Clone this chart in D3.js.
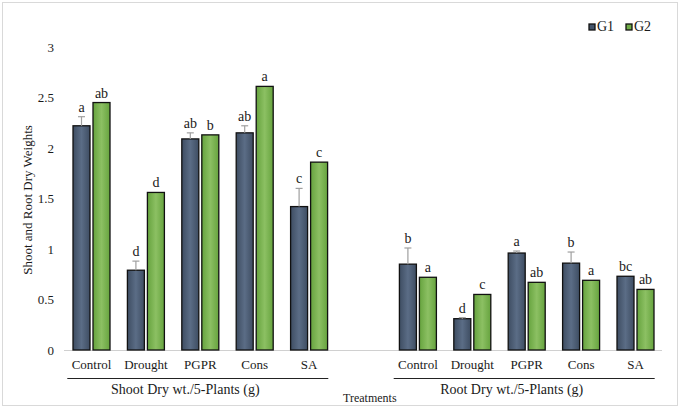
<!DOCTYPE html>
<html><head><meta charset="utf-8">
<script src="https://cdn.jsdelivr.net/npm/d3@7/dist/d3.min.js"></script>
<style>body{margin:0;background:#fff}svg{display:block}</style>
</head><body><svg id="c" width="681" height="410" font-family="'Liberation Serif', 'DejaVu Serif', serif"></svg>
<script>
const treatments = ["Control","Drought","PGPR","Cons","SA"];
const groups = ["Shoot Dry wt./5-Plants (g)","Root Dry wt./5-Plants (g)"];
const series = ["G1","G2"];
const shootG1 = [2.22,0.79,2.09,2.15,1.42];
const shootG2 = [2.45,1.56,2.13,2.61,1.86];
const shootG1Err = [0.09,0.09,0.06,0.07,0.18];
const shootG2Err = [0,0,0,0,0];
const rootG1 = [0.85,0.31,0.96,0.86,0.73];
const rootG2 = [0.72,0.55,0.67,0.69,0.60];
const rootG1Err = [0.16,0.01,0.02,0.11,0];
const rootG2Err = [0,0,0,0,0];
const shootG1Let = ["a","d","ab","ab","c"];
const shootG2Let = ["ab","d","b","a","c"];
const rootG1Let = ["b","d","a","b","bc"];
const rootG2Let = ["a","c","ab","a","ab"];
const yTicks = [0,0.5,1,1.5,2,2.5,3];
const yTitle = "Shoot and Root Dry Weights";
const xTitle = "Treatments";

const svg = d3.select("#c");
const FONT = "'Liberation Serif', 'DejaVu Serif', serif";
const TXT = "#1a1a1a";
const colors = {G1:"#44546A", G2:"#70AD47"};
const defs = svg.append("defs");
[["G1","#5b6d86","#3e4d62"],["G2","#8cc063","#66a33e"]].forEach(([k,a,b])=>{
  const g = defs.append("linearGradient").attr("id","gr"+k).attr("x1",0).attr("x2",1).attr("y1",0).attr("y2",0);
  g.append("stop").attr("offset","0%").attr("stop-color",b);
  g.append("stop").attr("offset","50%").attr("stop-color",a);
  g.append("stop").attr("offset","100%").attr("stop-color",b);
});

svg.append("rect").attr("x",2.5).attr("y",2.5).attr("width",675).attr("height",403).attr("fill","#fff").attr("stroke","#d9d9d9");

const slots = [];
treatments.forEach(t=>slots.push("S|"+t));
slots.push("gap");
treatments.forEach(t=>slots.push("R|"+t));

const x = d3.scaleBand().domain(slots).range([64.3,662.7]).paddingInner(0).paddingOuter(0);
const y = d3.scaleLinear().domain([0,3]).range([350,47]);

// y tick labels
svg.append("g").selectAll("text").data(yTicks).join("text")
  .attr("x",54).attr("y",d=>y(d)+4.5).attr("text-anchor","end").attr("font-size",13)
  .attr("font-family",FONT).attr("fill",TXT).text(d=>d);

// baseline
svg.append("line").attr("x1",64).attr("x2",662).attr("y1",350.5).attr("y2",350.5).attr("stroke","#d0d0d0");

const data = [];
const sets = [
  ["S",shootG1,shootG2,shootG1Err,shootG2Err,shootG1Let,shootG2Let],
  ["R",rootG1,rootG2,rootG1Err,rootG2Err,rootG1Let,rootG2Let]];
sets.forEach(([p,a,b,ea,eb,la,lb])=>{
  treatments.forEach((t,i)=>{
    data.push({slot:p+"|"+t,s:"G1",v:a[i],e:ea[i],l:la[i]});
    data.push({slot:p+"|"+t,s:"G2",v:b[i],e:eb[i],l:lb[i]});
  });
});
const xs = d3.scaleBand().domain(series).range([0,x.bandwidth()]).paddingInner(0.15).paddingOuter(0.435);

const g = svg.append("g");
data.forEach(d=>{
  const bx = x(d.slot)+xs(d.s);
  const w = xs.bandwidth();
  g.append("rect").attr("x",bx).attr("y",y(d.v)).attr("width",w).attr("height",y(0)-y(d.v))
    .attr("fill","url(#gr"+d.s+")").attr("stroke","#111").attr("stroke-width",1.3);
  const cx = bx+w/2;
  if(d.e>0){
    g.append("line").attr("x1",cx).attr("x2",cx).attr("y1",y(d.v)).attr("y2",y(d.v+d.e)).attr("stroke","#a0a0a0").attr("stroke-width",1.2);
    g.append("line").attr("x1",cx-3.5).attr("x2",cx+3.5).attr("y1",y(d.v+d.e)).attr("y2",y(d.v+d.e)).attr("stroke","#a0a0a0").attr("stroke-width",1.2);
  }
  g.append("text").attr("x",cx).attr("y",y(d.v+d.e)-5).attr("text-anchor","middle").attr("font-size",14)
    .attr("font-family",FONT).attr("fill",TXT).text(d.l);
});

// category labels
svg.append("g").selectAll("text").data(slots.filter(s=>s!=="gap")).join("text")
  .attr("x",d=>x(d)+x.bandwidth()/2).attr("y",369).attr("text-anchor","middle").attr("font-size",13)
  .attr("font-family",FONT).attr("fill",TXT).text(d=>d.split("|")[1]);

// group lines & labels
[["S",0],["R",1]].forEach(([p,i])=>{
  const first = x(p+"|"+treatments[0]), last = x(p+"|"+treatments[4])+x.bandwidth();
  svg.append("line").attr("x1",first+3).attr("x2",last-8).attr("y1",378.5).attr("y2",378.5).attr("stroke","#222").attr("stroke-width",1);
  svg.append("text").attr("x",(first+last)/2-15).attr("y",394).attr("text-anchor","middle").attr("font-size",14)
    .attr("font-family",FONT).attr("fill",TXT).text(groups[i]);
});

svg.append("text").attr("x",343).attr("y",402).attr("font-size",12).attr("font-family",FONT).attr("fill",TXT).text(xTitle);
svg.append("text").attr("transform","translate(32,200) rotate(-90)").attr("text-anchor","middle").attr("font-size",13)
  .attr("font-family",FONT).attr("fill",TXT).text(yTitle);

// legend
const leg = svg.append("g");
series.forEach((s,i)=>{
  const lx = 589 + i*37;
  leg.append("rect").attr("x",lx).attr("y",24).attr("width",6).attr("height",6).attr("fill",colors[s]).attr("stroke","#111").attr("stroke-width",1.3);
  leg.append("text").attr("x",lx+8).attr("y",31).attr("font-size",14).attr("font-family",FONT).attr("fill",TXT).text(s);
});
</script></body></html>
